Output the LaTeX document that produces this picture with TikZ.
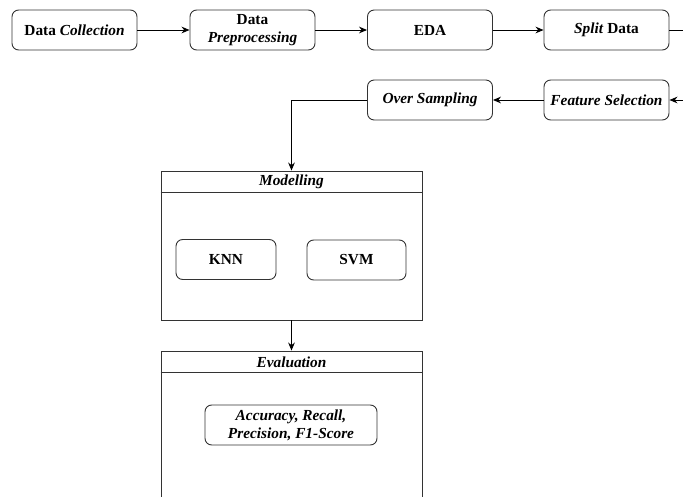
\documentclass[tikz,border=0pt]{standalone}
\usepackage{fontspec}
\setmainfont{Liberation Serif}
\usetikzlibrary{arrows.meta}

\begin{document}
\begin{tikzpicture}[x=0.75pt, y=-0.75pt,
    stepbox/.style={draw=black!80, line width=0.7pt, rounded corners=5pt,
        minimum width=93.75pt, minimum height=30pt, align=center, inner sep=2pt,
        font=\fontsize{11.5}{13.5}\selectfont\bfseries},
    groupbox/.style={draw=black!80, line width=0.7pt, minimum width=195.75pt},
    grouptitle/.style={font=\fontsize{11.5}{13.5}\selectfont\bfseries\itshape},
    arrow/.style={-{Stealth[length=6pt, width=5pt]}, line width=0.7pt}]

    \useasboundingbox (0,0) rectangle (683,497);
    \clip (0,0) rectangle (683,497);

    % Pipeline, first row
    \node[stepbox] (collect) at (74.5, 30) {Data \textit{Collection}};
    \node[stepbox] (prep) at (252.5, 30) {Data\\\textit{Preprocessing}};
    \node[stepbox] (eda) at (430, 30) {EDA};
    \node[stepbox] (split) at (606.5, 30) {\textit{Split} Data};

    % Second row, right to left
    \node[stepbox] (featsel) at (606.5, 100) {\textit{Feature Selection}};
    \node[stepbox] (oversamp) at (430, 100) {\textit{Over Sampling}};

    % Modelling block
    \node[groupbox, minimum height=111.75pt] (model) at (291.5, 245.5) {};
    \draw[line width=0.7pt, black!80] ([yshift=-16.5pt]model.north west) -- ([yshift=-16.5pt]model.north east);
    \node[grouptitle] (modtitle) at (291.5, 182) {Modelling};
    \node[stepbox, minimum width=75pt] (knn) at (226, 259.5) {KNN};
    \node[stepbox, minimum width=74.25pt] (svm) at (356.5, 260) {SVM};

    % Evaluation block
    \node[groupbox, minimum height=126.75pt] (eval) at (291.5, 435.5) {};
    \draw[line width=0.7pt, black!80] ([yshift=-16.5pt]eval.north west) -- ([yshift=-16.5pt]eval.north east);
    \node[grouptitle] (evaltitle) at (291.5, 362) {Evaluation};
    \node[stepbox, minimum width=129pt] (metrics) at (291, 425) {\textit{Accuracy, Recall,}\\\textit{Precision, F1-Score}};

    % Arrows
    \coordinate (rightturn) at (700, 30);
    \draw[arrow] (collect) -- (prep);
    \draw[arrow] (prep) -- (eda);
    \draw[arrow] (eda) -- (split);
    \draw[arrow] (split.east) -- (rightturn) |- (featsel.east);
    \draw[arrow] (featsel) -- (oversamp);
    \draw[arrow] (oversamp.west) -| (model.north);
    \draw[arrow] (model.south) -- (eval.north);
\end{tikzpicture}
\end{document}
